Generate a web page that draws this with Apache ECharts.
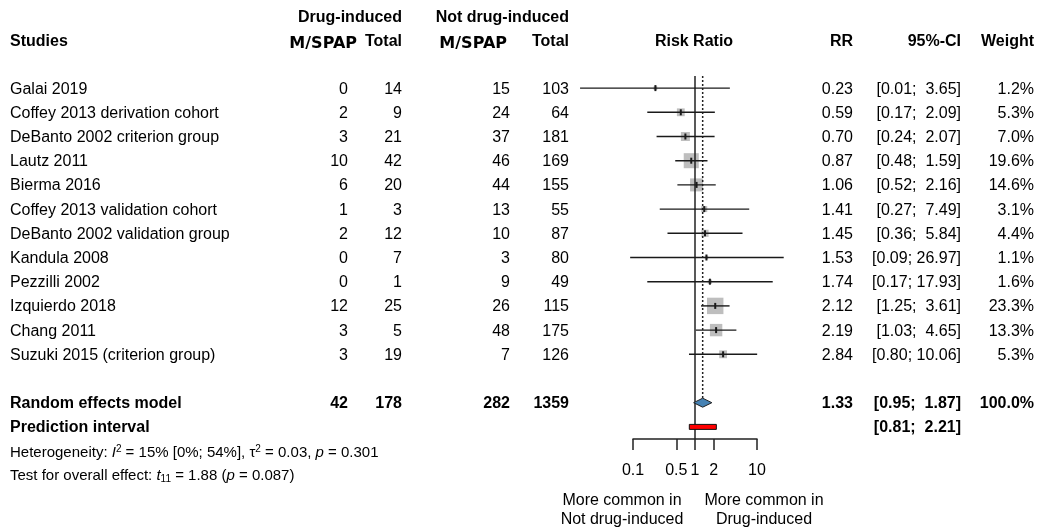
<!DOCTYPE html>
<html>
<head>
<meta charset="utf-8">
<script src="https://cdn.jsdelivr.net/npm/echarts@6/dist/echarts.min.js"></script>
<style>
  html, body { margin: 0; padding: 0; background: #fff; }
  #chart { width: 1039px; height: 528px; }
</style>
</head>
<body>
<div id="chart"></div>
<script>
// Study-level data (risk ratio of M/SPAP, drug-induced vs not drug-induced)
const studies = [
  'Galai 2019', 'Coffey 2013 derivation cohort', 'DeBanto 2002 criterion group',
  'Lautz 2011', 'Bierma 2016', 'Coffey 2013 validation cohort',
  'DeBanto 2002 validation group', 'Kandula 2008', 'Pezzilli 2002',
  'Izquierdo 2018', 'Chang 2011', 'Suzuki 2015 (criterion group)'
];
const drugEvents = [0, 2, 3, 10, 6, 1, 2, 0, 0, 12, 3, 3];
const drugTotal  = [14, 9, 21, 42, 20, 3, 12, 7, 1, 25, 5, 19];
const notEvents  = [15, 24, 37, 46, 44, 13, 10, 3, 9, 26, 48, 7];
const notTotal   = [103, 64, 181, 169, 155, 55, 87, 80, 49, 115, 175, 126];
const rr         = [0.23, 0.59, 0.70, 0.87, 1.06, 1.41, 1.45, 1.53, 1.74, 2.12, 2.19, 2.84];
const ciLower    = [0.014, 0.17, 0.24, 0.48, 0.52, 0.27, 0.36, 0.09, 0.17, 1.25, 1.03, 0.80];
const ciUpper    = [3.65, 2.09, 2.07, 1.59, 2.16, 7.49, 5.84, 26.97, 17.93, 3.61, 4.65, 10.06];
const weight     = [1.2, 5.3, 7.0, 19.6, 14.6, 3.1, 4.4, 1.1, 1.6, 23.3, 13.3, 5.3];

// Pooled (random effects) results
const pooledCounts = [42, 178, 282, 1359];
const pooledRR = 1.33;
const pooledCI = [0.95, 1.87];
const pooledWeight = 100.0;
const predictionCI = [0.81, 2.21];

// Axis ticks
const tickValues = [0.1, 0.5, 1, 2, 10];
const tickLabels = ['0.1', '0.5', '1', '2', '10'];

// Layout
const FONT = '"Liberation Sans", Arial, sans-serif';
const SIZE = 16;
const TEXT_DY = 1;
const COL = { name: 10, de: 348, dt: 402, ne: 510, nt: 569, rr: 853, ci: 961, w: 1034 };
const SUMMARY_ROW = 13;
const PRED_ROW = 14;
const SQUARE_SCALE = 3.4;
const DIAMOND_H = 4.5;
const INK = '#1a1a1a';

const fmt2 = v => v.toFixed(2);
const fmtCI = (lo, hi) => {
  const h = fmt2(hi);
  return '[' + fmt2(lo) + '; ' + (h.length < 5 ? ' ' : '') + h + ']';
};

const studyData = studies.map((s, i) => [rr[i], i, ciLower[i], ciUpper[i], weight[i]]);

function txt(x, y, text, align, bold, size, family) {
  return {
    type: 'text', x: x, y: y,
    style: {
      text: text, align: align || 'left', verticalAlign: 'middle',
      fontSize: size || SIZE, fontFamily: family || FONT,
      fontWeight: bold ? 'bold' : 'normal', fill: '#000'
    }
  };
}

const chart = echarts.init(document.getElementById('chart'), null, { renderer: 'canvas' });

const noteRich = {
  n: { fontSize: 15, fontFamily: FONT, lineHeight: 17, verticalAlign: 'middle' },
  i: { fontSize: 15, fontFamily: FONT, fontStyle: 'italic', lineHeight: 17, verticalAlign: 'middle' },
  s: { fontSize: 10, fontFamily: FONT, lineHeight: 10, verticalAlign: 'top' },
  b: { fontSize: 10, fontFamily: FONT, lineHeight: 10, verticalAlign: 'bottom' }
};

const option = {
  animation: false,
  backgroundColor: '#fff',
  grid: { left: 633, width: 124, top: 76, height: 363, containLabel: false },
  xAxis: {
    type: 'log', logBase: 10, min: 0.1, max: 10,
    axisLine: { show: true, onZero: false, lineStyle: { color: '#222', width: 1.5 } },
    axisTick: { show: true, inside: false, length: 11, customValues: tickValues,
                lineStyle: { color: '#222', width: 1.5 } },
    axisLabel: {
      show: true, customValues: tickValues, margin: 24,
      fontSize: SIZE, fontFamily: FONT, color: '#000',
      formatter: v => {
        let best = 0;
        tickValues.forEach((t, k) => { if (Math.abs(Math.log(t) - Math.log(v)) < Math.abs(Math.log(tickValues[best]) - Math.log(v))) best = k; });
        return tickLabels[best];
      }
    },
    splitLine: { show: false }
  },
  yAxis: { type: 'value', inverse: true, min: -0.5, max: 14.5, show: false },
  graphic: [
    txt(402, 18, 'Drug-induced', 'right', true),
    txt(569, 18, 'Not drug-induced', 'right', true),
    txt(10, 42, 'Studies', 'left', true),
    txt(357, 44, 'M/SPAP', 'right', true, 16, '"DejaVu Sans", sans-serif'),
    txt(402, 42, 'Total', 'right', true),
    txt(507, 44, 'M/SPAP', 'right', true, 16, '"DejaVu Sans", sans-serif'),
    txt(569, 42, 'Total', 'right', true),
    txt(694, 42, 'Risk Ratio', 'center', true),
    txt(COL.rr, 42, 'RR', 'right', true),
    txt(COL.ci, 42, '95%-CI', 'right', true),
    txt(COL.w, 42, 'Weight', 'right', true),
    {
      type: 'text', x: 10, y: 453,
      style: {
        text: '{n|Heterogeneity: }{i|I}{s|2}{n| = 15% [0%; 54%], τ}{s|2}{n| = 0.03, }{i|p}{n| = 0.301}',
        verticalAlign: 'middle', fill: '#000', rich: noteRich
      }
    },
    {
      type: 'text', x: 10, y: 476,
      style: {
        text: '{n|Test for overall effect: }{i|t}{b|11}{n| = 1.88 (}{i|p}{n| = 0.087)}',
        verticalAlign: 'middle', fill: '#000', rich: noteRich
      }
    },
    {
      type: 'text', x: 622, y: 510,
      style: { text: 'More common in\nNot drug-induced', align: 'center', verticalAlign: 'middle',
               fontSize: SIZE, fontFamily: FONT, lineHeight: 18.5, fill: '#000' }
    },
    {
      type: 'text', x: 764, y: 510,
      style: { text: 'More common in\nDrug-induced', align: 'center', verticalAlign: 'middle',
               fontSize: SIZE, fontFamily: FONT, lineHeight: 18.5, fill: '#000' }
    }
  ],
  series: [
    // Weight squares
    {
      type: 'custom', name: 'squares', z: 1, clip: false,
      data: studyData, encode: { x: 0, y: 1 },
      renderItem: (params, api) => {
        const p = api.coord([api.value(0), api.value(1)]);
        const s = SQUARE_SCALE * Math.sqrt(api.value(4));
        return { type: 'rect', shape: { x: p[0] - s / 2, y: p[1] - s / 2, width: s, height: s },
                 style: { fill: '#BEBEBE' } };
      }
    },
    // Reference lines: no effect (RR = 1) and pooled estimate
    {
      type: 'custom', name: 'reference', z: 2, clip: false,
      data: [[1, 0], [pooledRR, 1]], encode: { x: 0 },
      renderItem: (params, api) => {
        const x = api.coord([api.value(0), 0])[0];
        const yTop = api.coord([1, -0.5])[1];
        if (api.value(1) === 0) {
          const yBot = api.coord([1, 14.5])[1];
          return { type: 'line', shape: { x1: x, y1: yTop, x2: x, y2: yBot },
                   style: { stroke: '#222', lineWidth: 1.5 } };
        }
        const yBot = api.coord([1, SUMMARY_ROW])[1] - DIAMOND_H;
        return { type: 'line', shape: { x1: x, y1: yTop, x2: x, y2: yBot },
                 style: { stroke: '#222', lineWidth: 1.5, lineDash: [2, 2] } };
      }
    },
    // Confidence intervals and point estimates
    {
      type: 'custom', name: 'whiskers', z: 3, clip: false,
      data: studyData, encode: { x: 0, y: 1 },
      renderItem: (params, api) => {
        const row = api.value(1);
        const pE = api.coord([api.value(0), row]);
        const pL = api.coord([api.value(2), row]);
        const pH = api.coord([api.value(3), row]);
        return {
          type: 'group',
          children: [
            { type: 'line', shape: { x1: pL[0], y1: pE[1], x2: pH[0], y2: pE[1] },
              style: { stroke: INK, lineWidth: 1.4 } },
            { type: 'line', shape: { x1: pE[0], y1: pE[1] - 3, x2: pE[0], y2: pE[1] + 3 },
              style: { stroke: INK, lineWidth: 2 } }
          ]
        };
      }
    },
    // Table text for each study
    {
      type: 'custom', name: 'table', z: 3, clip: false,
      data: studyData, encode: { x: 0, y: 1 },
      renderItem: (params, api) => {
        const i = params.dataIndex;
        const y = api.coord([1, api.value(1)])[1] + TEXT_DY;
        return {
          type: 'group',
          children: [
            txt(COL.name, y, studies[i], 'left'),
            txt(COL.de, y, String(drugEvents[i]), 'right'),
            txt(COL.dt, y, String(drugTotal[i]), 'right'),
            txt(COL.ne, y, String(notEvents[i]), 'right'),
            txt(COL.nt, y, String(notTotal[i]), 'right'),
            txt(COL.rr, y, fmt2(api.value(0)), 'right'),
            txt(COL.ci, y, fmtCI(api.value(2), api.value(3)), 'right'),
            txt(COL.w, y, api.value(4).toFixed(1) + '%', 'right')
          ]
        };
      }
    },
    // Random effects diamond and its row
    {
      type: 'custom', name: 'pooled', z: 4, clip: false,
      data: [[pooledRR, SUMMARY_ROW, pooledCI[0], pooledCI[1], pooledWeight]], encode: { x: 0, y: 1 },
      renderItem: (params, api) => {
        const row = api.value(1);
        const pE = api.coord([api.value(0), row]);
        const xl = api.coord([api.value(2), row])[0];
        const xh = api.coord([api.value(3), row])[0];
        const y = pE[1];
        const ty = y + TEXT_DY;
        return {
          type: 'group',
          children: [
            { type: 'polygon',
              shape: { points: [[xl, y], [pE[0], y - DIAMOND_H], [xh, y], [pE[0], y + DIAMOND_H]] },
              style: { fill: '#4682B4', stroke: '#222', lineWidth: 1 } },
            txt(COL.name, ty, 'Random effects model', 'left', true),
            txt(COL.de, ty, String(pooledCounts[0]), 'right', true),
            txt(COL.dt, ty, String(pooledCounts[1]), 'right', true),
            txt(COL.ne, ty, String(pooledCounts[2]), 'right', true),
            txt(COL.nt, ty, String(pooledCounts[3]), 'right', true),
            txt(COL.rr, ty, fmt2(api.value(0)), 'right', true),
            txt(COL.ci, ty, fmtCI(api.value(2), api.value(3)), 'right', true),
            txt(COL.w, ty, api.value(4).toFixed(1) + '%', 'right', true)
          ]
        };
      }
    },
    // Prediction interval bar
    {
      type: 'custom', name: 'prediction', z: 4, clip: false,
      data: [[predictionCI[0], PRED_ROW, predictionCI[1]]], encode: { x: 0, y: 1 },
      renderItem: (params, api) => {
        const row = api.value(1);
        const pL = api.coord([api.value(0), row]);
        const xh = api.coord([api.value(2), row])[0];
        return {
          type: 'group',
          children: [
            { type: 'rect', shape: { x: pL[0], y: pL[1] - 2.5, width: xh - pL[0], height: 5 },
              style: { fill: '#FF0000', stroke: '#111', lineWidth: 1 } },
            txt(COL.name, pL[1] + TEXT_DY, 'Prediction interval', 'left', true),
            txt(COL.ci, pL[1] + TEXT_DY, fmtCI(api.value(0), api.value(2)), 'right', true)
          ]
        };
      }
    }
  ]
};

chart.setOption(option);
</script>
</body>
</html>
